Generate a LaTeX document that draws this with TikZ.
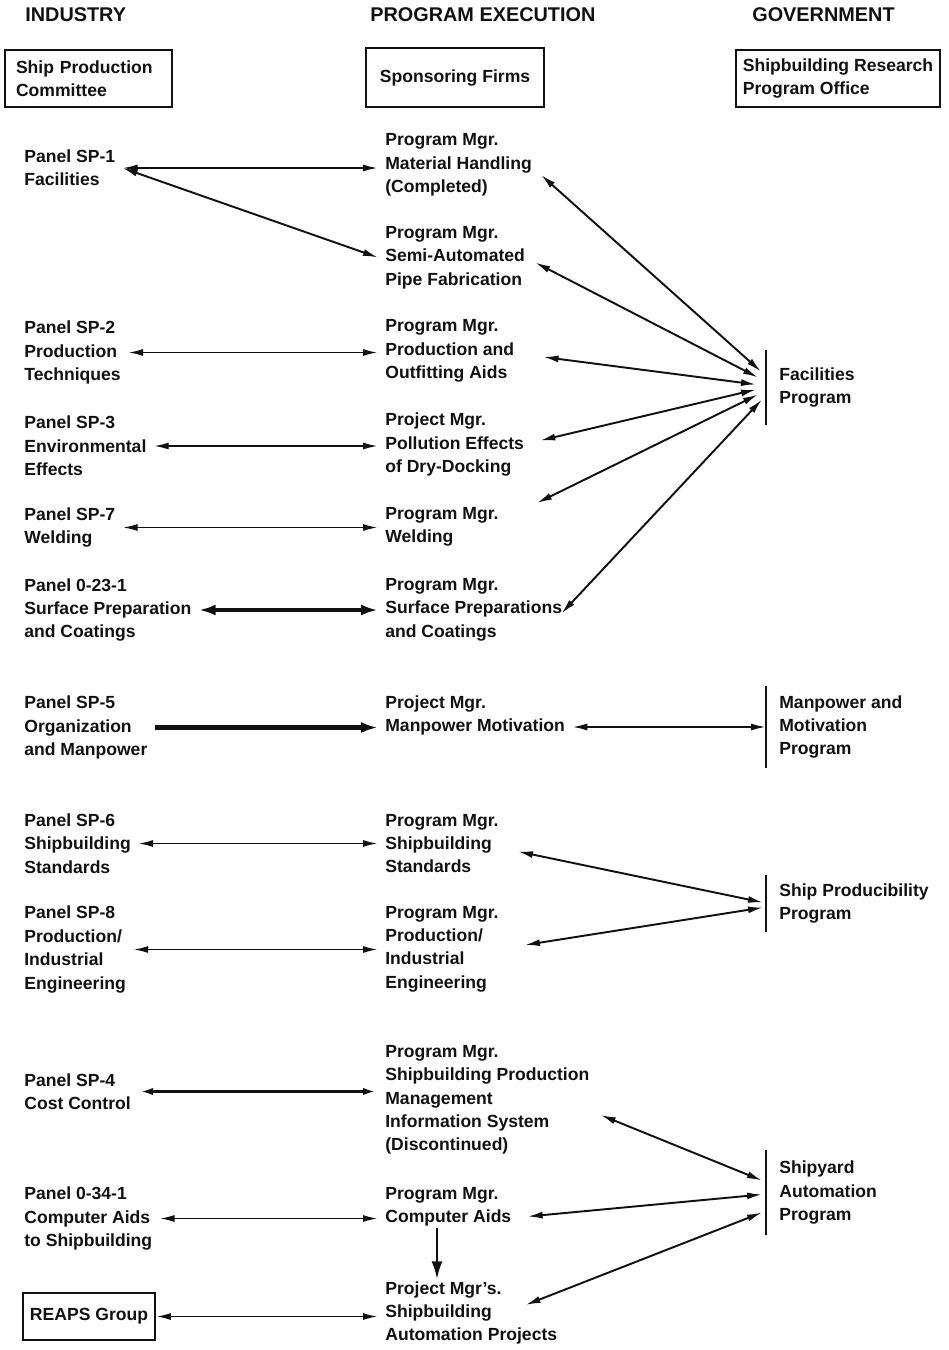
\documentclass[tikz,border=0pt]{standalone}
\usepackage{fontspec}
\setmainfont{Liberation Sans}
\usepackage{tikz}
\usetikzlibrary{arrows.meta, positioning, calc}
\definecolor{cInk}{HTML}{111111}

\begin{document}
\begin{tikzpicture}[x=0.02cm, y=-0.02cm, cInk,
        font=\fontsize{10}{13.3}\selectfont\bfseries,
        >={Latex[length=3mm,width=1.4mm]},
        head/.style={anchor=west, inner sep=0pt, font=\fontsize{11.3}{13}\selectfont\bfseries},
        txt/.style={anchor=west, align=left, inner xsep=0.14cm, inner ysep=1pt},
        box/.style={draw, line width=1.1pt, align=left, inner sep=0pt},
        prog/.style={anchor=west, align=left, inner xsep=0.26cm, inner ysep=0pt},
        bar/.style={line width=1.7pt},
        link/.style={<->, line width=1.1pt},
        heavy/.style={line width=2.6pt, >={Latex[length=3.4mm,width=2.2mm]}}
    ]
        \useasboundingbox (0,0) rectangle (948,1350);

        % column heads
        \node[head] (hInd) at (25,15) {INDUSTRY};
        \node[head] (hExe) at (370,15) {PROGRAM EXECUTION};
        \node[head] (hGov) at (752,15) {GOVERNMENT};

        \node[box, minimum width=3.34cm, minimum height=1.14cm, text width=2.9cm] (spc) at (88.5,78.5) {Ship Production\\Committee};
        \node[box, minimum width=3.56cm, minimum height=1.18cm] (firms) at (455,77.5) {Sponsoring Firms};
        \node[box, minimum width=4.08cm, minimum height=1.14cm] (srpo) at (838,78.5) {Shipbuilding Research\\Program Office};

        % industry panels
        \node[txt] (sp1) at (17,168) {Panel SP-1\\Facilities};
        \node[txt] (sp2) at (17,352.5) {Panel SP-2\\Production\\Techniques};
        \node[txt] (sp3) at (17,446) {Panel SP-3\\Environmental\\Effects};
        \node[txt] (sp7) at (17,527.5) {Panel SP-7\\Welding};
        \node[txt] (p0231) at (17,610) {Panel 0-23-1\\Surface Preparation\\and Coatings};
        \node[txt] (sp5) at (17,727.5) {Panel SP-5\\Organization\\and Manpower};
        \node[txt] (sp6) at (17,843.5) {Panel SP-6\\Shipbuilding\\Standards};
        \node[txt] (sp8) at (17,949.5) {Panel SP-8\\Production/\\Industrial\\Engineering};
        \node[txt] (sp4) at (17,1091.5) {Panel SP-4\\Cost Control};
        \node[txt] (p0341) at (17,1218.5) {Panel 0-34-1\\Computer Aids\\to Shipbuilding};
        \node[box, minimum width=2.64cm, minimum height=0.94cm] (reaps) at (89,1316.5) {REAPS Group};

        % program managers
        \node[txt] (mh) at (378,165) {Program Mgr.\\Material Handling\\(Completed)};
        \node[txt] (sa) at (378,257.5) {Program Mgr.\\Semi-Automated\\Pipe Fabrication};
        \node[txt] (pa) at (378,351) {Program Mgr.\\Production and\\Outfitting Aids};
        \node[txt] (pd) at (378,444.5) {Project Mgr.\\Pollution Effects\\of Dry-Docking};
        \node[txt] (mw) at (378,527) {Program Mgr.\\Welding};
        \node[txt] (ms) at (378,609.5) {Program Mgr.\\Surface Preparations\\and Coatings};
        \node[txt] (mm) at (378,715.5) {Project Mgr.\\Manpower Motivation};
        \node[txt] (mss) at (378,843.5) {Program Mgr.\\Shipbuilding\\Standards};
        \node[txt] (mpi) at (378,949) {Program Mgr.\\Production/\\Industrial\\Engineering};
        \node[txt] (mis) at (378,1100) {Program Mgr.\\Shipbuilding Production\\Management\\Information System\\(Discontinued)};
        \node[txt] (mca) at (378,1206.5) {Program Mgr.\\Computer Aids};
        \node[txt] (ap) at (378,1313) {Project Mgr's.\\Shipbuilding\\Automation Projects};

        % government programs
        \node[prog, minimum height=1.5cm] (fac) at (766,387.5) {Facilities\\Program};
        \node[prog, minimum height=1.64cm] (man) at (766,727) {Manpower and\\Motivation\\Program};
        \node[prog, minimum height=1.14cm] (shp) at (766,903.5) {Ship Producibility\\Program};
        \node[prog, minimum height=1.7cm] (sya) at (766,1192.5) {Shipyard\\Automation\\Program};
        \foreach \p in {fac, man, shp, sya}
            \draw[bar] (\p.north west) -- (\p.south west);

        % industry -- execution
        \draw[link] (sp1.east) -- (sp1.east -| mh.west);
        \draw[link] (sp1.east) -- (sa.west);
        \draw[link] (sp2.east) -- (sp2.east -| pa.west);
        \draw[link] (sp3.east) -- (sp3.east -| pd.west);
        \draw[link] (sp7.east) -- (sp7.east -| mw.west);
        \draw[heavy, <->] (p0231.east) -- (p0231.east -| ms.west);
        \draw[heavy, ->] (sp5.east) -- (sp5.east -| mm.west);
        \draw[link] (sp6.east) -- (sp6.east -| mss.west);
        \draw[link] (sp8.east) -- (sp8.east -| mpi.west);
        \draw[link, line width=1.8pt] (sp4.east) -- (sp4.east -| mis.west);
        \draw[link] (p0341.east) -- (p0341.east -| mca.west);
        \draw[link] (reaps.east) -- (reaps.east -| ap.west);

        % execution -- government
        \draw[link] ($(mh.east)+(2,10)$) -- ($(fac.west)+(-5,-16)$);
        \draw[link] ($(sa.east)+(3,5)$) -- ($(fac.west)+(-8,-10)$);
        \draw[link] ($(pa.east)+(22,6)$) -- ($(fac.west)+(-10,-3)$);
        \draw[link] ($(pd.east)+(9,-4)$) -- ($(fac.west)+(-10,2)$);
        \draw[link] ($(mw.east)+(31,-24)$) -- ($(fac.west)+(-8,7)$);
        \draw[link] ($(ms.east)+(-8,4)$) -- ($(fac.west)+(-4,12)$);
        \draw[link] (man.west) -- (man.west -| mm.east);
        \draw[link] ($(mss.east)+(12,8)$) -- ($(shp.west)+(-3,-1)$);
        \draw[link] ($(mpi.east)+(19,-4)$) -- ($(shp.west)+(-3,4)$);
        \draw[link] ($(mis.east)+(4,15)$) -- ($(sya.west)+(-4,-12)$);
        \draw[link] ($(mca.east)+(9,10)$) -- ($(sya.west)+(-4,2)$);
        \draw[link] ($(ap.east)+(-39,-8)$) -- ($(sya.west)+(-4,20)$);

        \coordinate (drop) at ($(mca.south west)+(59,0)$);
        \draw[link, ->, line width=1.5pt, >={Latex[length=3.6mm,width=2.2mm]}] (drop) -- (drop |- ap.north);
    \end{tikzpicture}
\end{document}
